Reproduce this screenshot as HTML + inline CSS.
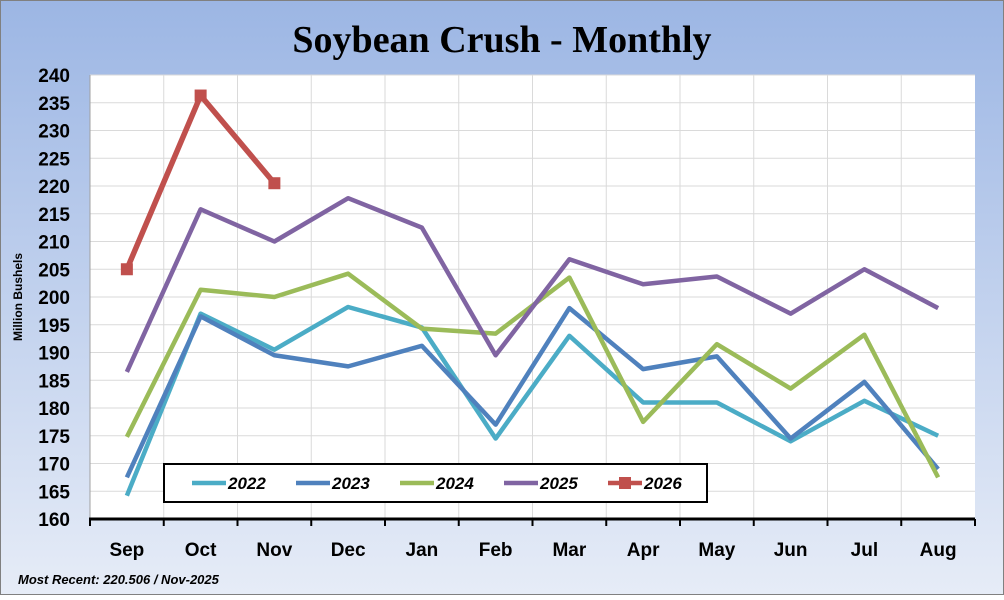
<!DOCTYPE html>
<html><head><meta charset="utf-8"><style>
body{margin:0;width:1004px;height:595px;overflow:hidden;font-family:"Liberation Sans",sans-serif}
</style></head><body>
<svg width="1004" height="595" xmlns="http://www.w3.org/2000/svg">
<defs><linearGradient id="bg" x1="0" y1="0" x2="0" y2="1"><stop offset="0" stop-color="#9cb6e4"/><stop offset="1" stop-color="#e6ecf7"/></linearGradient></defs>
<rect x="0.5" y="0.5" width="1003" height="594" fill="url(#bg)" stroke="#808080"/>
<text x="502" y="52" text-anchor="middle" font-family="Liberation Serif, serif" font-weight="bold" font-size="38">Soybean Crush - Monthly</text>
<rect x="90" y="75" width="885" height="444" fill="#fff"/>
<g id="grid"></g>
<g id="series"></g>
<g id="axes"></g>
<text transform="translate(22,297) rotate(-90)" text-anchor="middle" font-weight="bold" font-size="12">Million Bushels</text>
<text x="18" y="584" font-weight="bold" font-style="italic" font-size="13">Most Recent:  220.506  / Nov-2025</text>
<g id="legend"></g>
</svg>
<script>
const months=["Sep","Oct","Nov","Dec","Jan","Feb","Mar","Apr","May","Jun","Jul","Aug"];
const yTicks=[160,165,170,175,180,185,190,195,200,205,210,215,220,225,230,235,240];
const names=["2022","2023","2024","2025","2026"];
const colors=["#4bacc6","#4f81bd","#9bbb59","#8064a2","#c0504d"];
const s2022=[164.2,197,190.5,198.2,194.5,174.5,193,181,181,174,181.3,175];
const s2023=[167.5,196.5,189.5,187.5,191.2,177,198,187,189.3,174.5,184.7,169];
const s2024=[174.8,201.3,200,204.2,194.3,193.4,203.5,177.5,191.5,183.5,193.2,167.5];
const s2025=[186.5,215.8,210,217.8,212.5,189.5,206.8,202.3,203.7,197,205,198];
const s2026=[205,236.3,220.5];
const series=[s2022,s2023,s2024,s2025,s2026];
const L=90,R=975,T=75,B=519,yMin=160,yMax=240;
const cw=(R-L)/months.length;
const X=i=>L+cw*(i+0.5);
const Y=v=>B-(v-yMin)/(yMax-yMin)*(B-T);
const NS="http://www.w3.org/2000/svg";
function mk(tag,attrs,parent,text){const e=document.createElementNS(NS,tag);for(const k in attrs)e.setAttribute(k,attrs[k]);if(text!==undefined)e.textContent=text;parent.appendChild(e);return e;}
const grid=document.getElementById('grid'),axes=document.getElementById('axes'),sg=document.getElementById('series'),lg=document.getElementById('legend');
yTicks.forEach(t=>{
  if(t>yMin){const l=mk('line',{x1:L,x2:R,y1:Y(t),y2:Y(t),stroke:'#dadada','stroke-width':1},grid);
  
  }
  const tx=mk('text',{x:L-20,y:Y(t)+7,'text-anchor':'end','font-weight':'bold','font-size':19},axes,String(t));
  
  
});
for(let i=1;i<months.length;i++){
  const l=mk('line',{x1:L+cw*i,x2:L+cw*i,y1:T,y2:B,stroke:'#dadada','stroke-width':1},grid);
  
  
}
mk('line',{x1:L,x2:L,y1:T,y2:B,stroke:'#a0a0a0','stroke-width':1},axes);
const xa=mk('line',{x1:L-1,x2:R,y1:B,y2:B,stroke:'#000','stroke-width':3},axes);


for(let i=0;i<=months.length;i++){mk('line',{x1:L+cw*i,x2:L+cw*i,y1:B,y2:B+7,stroke:'#000','stroke-width':2},axes);}
months.forEach((m,i)=>{
  const t=mk('text',{x:X(i),y:556,'text-anchor':'middle','font-weight':'bold','font-size':19},axes,m);
  
  
});
series.forEach((s,k)=>{
  const pts=s.map((v,i)=>X(i)+','+Y(v)).join(' ');
  const p=mk('polyline',{points:pts,fill:'none',stroke:colors[k],'stroke-width':k==4?5.5:4.5,'stroke-linejoin':'round'},sg);
  
  
  if(k==4){s.forEach((v,i)=>{const r=mk('rect',{x:X(i)-6,y:Y(v)-6,width:12,height:12,fill:colors[k]},sg);
    
    });}
});
const box=mk('rect',{x:164,y:464,width:543,height:38,fill:'#fff',stroke:'#000','stroke-width':2},lg);


names.forEach((n,k)=>{
  const x0=192+k*104;
  const g=mk('g',{},lg);
  
  
  mk('line',{x1:x0,x2:x0+34,y1:483,y2:483,stroke:colors[k],'stroke-width':4.5},g);
  if(k==4)mk('rect',{x:x0+11,y:477,width:12,height:12,fill:colors[k]},g);
  mk('text',{x:x0+36,y:489,'font-weight':'bold','font-style':'italic','font-size':17},g,n);
});
</script>
</body></html>
